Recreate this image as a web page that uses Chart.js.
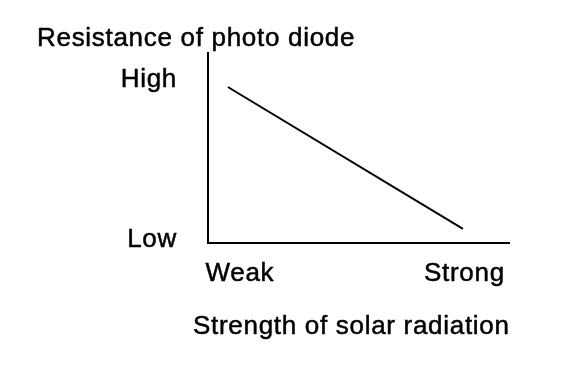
<!DOCTYPE html>
<html lang="en">
<head>
<meta charset="UTF-8">
<title>Photo diode resistance</title>
<script src="https://cdn.jsdelivr.net/npm/chart.js@4"></script>
<style>
  html, body { margin: 0; background: #ffffff; }
  canvas { display: block; }
</style>
</head>
<body>
<canvas id="chart" width="576" height="370"></canvas>
<script>
// data (0..100 on both axes)
const radiation = [6.6, 84.7];
const resistance = [82.1, 7.4];
const yTickValues = [85.8, 1.8];
const yTickLabels = ['High', 'Low'];
const xTickValues = [10.6, 85.2];
const xTickLabels = ['Weak', 'Strong'];
const yTitle = 'Resistance of photo diode';
const xTitle = 'Strength of solar radiation';

const FONT = "'Liberation Sans', Arial, sans-serif";

// the sketch puts its labels loosely around the axes, so draw them by hand
const sketchLabels = {
    id: 'sketchLabels',
    afterDraw(chart) {
        const ctx = chart.ctx;
        const area = chart.chartArea;
        const xs = chart.scales.x;
        const ys = chart.scales.y;
        ctx.save();
        ctx.fillStyle = '#000';
        ctx.strokeStyle = '#000';
        ctx.lineWidth = 0.5;
        ctx.font = '26px ' + FONT;
        ctx.letterSpacing = '0.7px';
        const put = (t, x, y) => { ctx.fillText(t, x, y); ctx.strokeText(t, x, y); };

        ctx.textAlign = 'right';
        ctx.textBaseline = 'middle';
        yTickLabels.forEach((t, i) => {
            put(t, area.left - 31, ys.getPixelForValue(yTickValues[i]));
        });

        ctx.textAlign = 'center';
        ctx.textBaseline = 'alphabetic';
        xTickLabels.forEach((t, i) => {
            put(t, xs.getPixelForValue(xTickValues[i]), area.bottom + 38);
        });

        ctx.textAlign = 'left';
        put(yTitle, area.left - 171, area.top - 7);
        put(xTitle, area.left - 15, area.bottom + 91);
        ctx.restore();
    }
};

const points = radiation.map((x, i) => ({ x: x, y: resistance[i] }));

new Chart(document.getElementById('chart'), {
    type: 'scatter',
    data: {
        datasets: [{
            data: points,
            showLine: true,
            borderColor: '#000',
            borderWidth: 2,
            pointRadius: 0
        }]
    },
    options: {
        responsive: false,
        devicePixelRatio: 1,
        animation: false,
        layout: { padding: { left: 208, top: 53, right: 67, bottom: 127 } },
        plugins: { legend: { display: false }, tooltip: { enabled: false } },
        scales: {
            x: {
                type: 'linear', min: 0, max: 100,
                afterFit: s => { s.height = 0; },
                grid: { display: false },
                border: { display: true, color: '#000', width: 2 },
                ticks: { display: false }
            },
            y: {
                type: 'linear', min: 0, max: 100,
                afterFit: s => { s.width = 0; },
                grid: { display: false },
                border: { display: true, color: '#000', width: 2 },
                ticks: { display: false }
            }
        }
    },
    plugins: [sketchLabels]
});
</script>
</body>
</html>
